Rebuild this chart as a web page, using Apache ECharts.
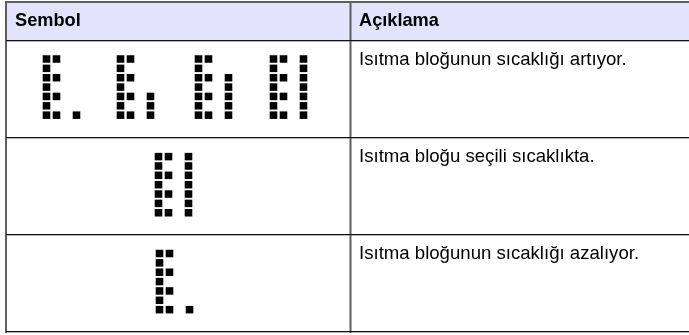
<!DOCTYPE html>
<html><head><meta charset="utf-8">
<style>html,body{margin:0;padding:0;background:#fff}#c{width:689px;height:335px}</style>
<script src="https://cdn.jsdelivr.net/npm/echarts@6/dist/echarts.min.js"></script>
</head><body><div id="c"></div>
<script>
// Table content
const headers = ['Sembol', 'Açıklama'];
const descriptions = [
  'Isıtma bloğunun sıcaklığı artıyor.',
  'Isıtma bloğu seçili sıcaklıkta.',
  'Isıtma bloğunun sıcaklığı azalıyor.'
];
// Dot-matrix glyphs: left digit plus right column fill level
const glyphE = ['##', '#.', '##', '#.', '##', '#.', '##'];
const barLevel1 = ['.', '.', '.', '.', '.', '.', '#'];
const barLevel2 = ['.', '.', '.', '.', '#', '#', '#'];
const barLevel3 = ['.', '.', '#', '#', '#', '#', '#'];
const barLevel4 = ['#', '#', '#', '#', '#', '#', '#'];
const symbolRow1 = [barLevel1, barLevel2, barLevel3, barLevel4];
const symbolRow2 = [barLevel4];
const symbolRow3 = [barLevel1];

// Layout (pixel axis scale)
const W = 689, H = 335;
const pitchX = 10, pitchY = 9.36, barCol = 3;
const placements = [
  { bar: symbolRow1[0], x: 46.5,  y: 59 },
  { bar: symbolRow1[1], x: 120.5, y: 59 },
  { bar: symbolRow1[2], x: 198.5, y: 59 },
  { bar: symbolRow1[3], x: 273.5, y: 59 },
  { bar: symbolRow2[0], x: 158.5, y: 156.6 },
  { bar: symbolRow3[0], x: 159.5, y: 253.5 }
];
const dots = [];
placements.forEach(p => {
  glyphE.forEach((row, r) => {
    [...row].forEach((ch, c) => { if (ch === '#') dots.push([p.x + c * pitchX, p.y + r * pitchY]); });
    if (p.bar[r] === '#') dots.push([p.x + barCol * pitchX, p.y + r * pitchY]);
  });
});

const txt = (x, y, t, bold) => ({
  type: 'text', x, y, z: 10, silent: true,
  style: { text: t, fill: '#000', font: (bold ? 'bold 18.2px ' : '18.6px ') + '"Liberation Sans", Arial, sans-serif', textVerticalAlign: 'middle' }
});
const rect = (x, y, w, h, fill, z) => ({ type: 'rect', z: z || 1, silent: true, shape: { x, y, width: w, height: h }, style: { fill } });
const BLACK = '#111', GRAY = '#5f5f5f', SHADE = '#b5b5b5';
const hRule = y => [rect(6, y, W - 6, 1, BLACK, 3), rect(6, y + 1, W - 6, 1, SHADE, 2)];

const chart = echarts.init(document.getElementById('c'), null, { renderer: 'canvas' });
chart.setOption({
  animation: false,
  backgroundColor: '#fff',
  grid: { left: 0, top: 0, width: W, height: H, containLabel: false },
  xAxis: { type: 'value', min: 0, max: W, show: false },
  yAxis: { type: 'value', min: 0, max: H, inverse: true, show: false },
  series: [{
    type: 'scatter',
    symbol: 'rect',
    symbolSize: [7.6, 7.5],
    itemStyle: { color: '#000', opacity: 1 },
    z: 5,
    silent: true,
    data: dots
  }],
  graphic: { elements: [
    rect(6, 2, W - 6, 38, '#e3e3fd', 1),
    rect(5, 1, W - 5, 2, GRAY, 3),
    rect(5, 1, 2, 332, GRAY, 3),
    rect(349.5, 1, 2, 332, GRAY, 3),
    ...hRule(40), ...hRule(137), ...hRule(234), ...hRule(331),
    txt(15, 21, headers[0], true),
    txt(359, 21, headers[1], true),
    txt(359, 60, descriptions[0]),
    txt(359, 157, descriptions[1]),
    txt(359, 254, descriptions[2])
  ] }
});
</script></body></html>
